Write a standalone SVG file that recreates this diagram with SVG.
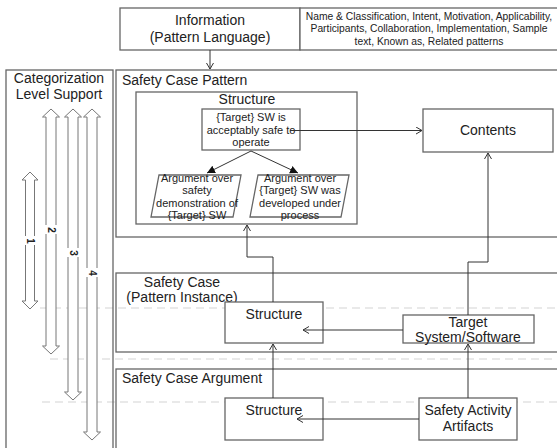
<svg xmlns="http://www.w3.org/2000/svg" width="557" height="448" viewBox="0 0 557 448">
<style>
text{font-family:"Liberation Sans",Arial,sans-serif;fill:#222}
.t14{font-size:14px}
.t11{font-size:11px}
.t10{font-size:10.3px}
.lbl{font-size:10px;font-weight:bold}
.box{fill:#fff;stroke:#666;stroke-width:1.3}
.cont{fill:none;stroke:#666;stroke-width:1.3}
.dash{stroke:#e2e2e2;stroke-width:1.5;stroke-dasharray:8 5;fill:none}
.con{fill:none;stroke:#333;stroke-width:1}
.blk{fill:#fff;stroke:#777;stroke-width:1}
.bg{fill:#fff}
</style>
<defs>
<marker id="open" markerUnits="userSpaceOnUse" markerWidth="10" markerHeight="10" refX="7" refY="4" orient="auto">
<path d="M1,0.5 L7,4 L1,7.5" fill="none" stroke="#333" stroke-width="1"/>
</marker>
<marker id="solid" markerUnits="userSpaceOnUse" markerWidth="10" markerHeight="10" refX="8" refY="4" orient="auto">
<path d="M0,0 L8,4 L0,8 Z" fill="#111"/>
</marker>
</defs>
<rect width="557" height="448" fill="#fff"/>
<g id="guides">
<line class="dash" x1="40" y1="308" x2="557" y2="308"/>
<line class="dash" x1="50" y1="359" x2="557" y2="359"/>
<line class="dash" x1="42" y1="402" x2="557" y2="402"/>
</g>
<g id="information">
<rect class="box" x="120" y="8" width="180" height="42"/>
<text class="t14" x="210" y="25" text-anchor="middle">Information</text>
<text class="t14" x="210" y="42" text-anchor="middle">(Pattern Language)</text>
</g>
<g id="information-list">
<rect class="box" x="300" y="8" width="262" height="42"/>
<text class="t10" x="429" y="20" text-anchor="middle">Name &amp; Classification, Intent, Motivation, Applicability,</text>
<text class="t10" x="429" y="32" text-anchor="middle">Participants, Collaboration, Implementation, Sample</text>
<text class="t10" x="429" y="45" text-anchor="middle">text, Known as, Related patterns</text>
</g>
<g id="categorization">
<rect class="cont" x="6" y="70" width="107" height="390"/>
<text class="t14" x="59" y="83" text-anchor="middle">Categorization</text>
<text class="t14" x="59" y="99" text-anchor="middle">Level Support</text>
<polygon class="blk" points="30,172 38,180 34.5,180 34.5,301 38,301 30,309 22,301 25.5,301 25.5,180 22,180"/>
<polygon class="blk" points="51,109 59.5,117 56,117 56,346 59.5,346 51,354 42.5,346 46,346 46,117 42.5,117"/>
<polygon class="blk" points="73,109 81.5,117 78,117 78,392 81.5,392 73,400 64.5,392 68,392 68,117 64.5,117"/>
<polygon class="blk" points="92,109 100.5,117 97,117 97,432 100.5,432 92,440 83.5,432 87,432 87,117 83.5,117"/>
<rect class="bg" x="24" y="236" width="12" height="9"/>
<rect class="bg" x="45" y="225" width="12" height="9"/>
<rect class="bg" x="67" y="248" width="12" height="9"/>
<rect class="bg" x="86" y="268" width="12" height="9"/>
<text class="lbl" transform="translate(26.5,241) rotate(90)" text-anchor="middle">1</text>
<text class="lbl" transform="translate(47.5,230) rotate(90)" text-anchor="middle">2</text>
<text class="lbl" transform="translate(69.5,253) rotate(90)" text-anchor="middle">3</text>
<text class="lbl" transform="translate(88.5,273) rotate(90)" text-anchor="middle">4</text>
</g>
<g id="safety-case-pattern">
<rect class="cont" x="116" y="70" width="450" height="167"/>
<text class="t14" x="122" y="85">Safety Case Pattern</text>
</g>
<g id="pattern-structure">
<rect class="box" x="136" y="92" width="221" height="132"/>
<text class="t14" x="247" y="104" text-anchor="middle">Structure</text>
</g>
<g id="goal">
<rect class="box" x="202" y="109" width="98" height="41"/>
<text class="t11" x="251" y="121" text-anchor="middle">{Target} SW is</text>
<text class="t11" x="251" y="134" text-anchor="middle">acceptably safe to</text>
<text class="t11" x="251" y="146" text-anchor="middle">operate</text>
</g>
<g id="strategy-1">
<polygon class="box" points="159,175 241,175 233,217 151,217"/>
<text class="t11" x="197" y="182" text-anchor="middle">Argument over</text>
<text class="t11" x="197" y="194" text-anchor="middle">safety</text>
<text class="t11" x="197" y="207" text-anchor="middle">demonstration of</text>
<text class="t11" x="197" y="219" text-anchor="middle">{Target} SW</text>
</g>
<g id="strategy-2">
<polygon class="box" points="258,175 349,175 341,217 250,217"/>
<text class="t11" x="300" y="182" text-anchor="middle">Argument over</text>
<text class="t11" x="300" y="194" text-anchor="middle">{Target} SW was</text>
<text class="t11" x="300" y="207" text-anchor="middle">developed under</text>
<text class="t11" x="300" y="219" text-anchor="middle">process</text>
</g>
<g id="contents">
<rect class="box" x="423" y="109" width="130" height="43"/>
<text class="t14" x="488" y="135" text-anchor="middle">Contents</text>
</g>
<g id="safety-case-instance">
<rect class="cont" x="116" y="273" width="450" height="79"/>
<text class="t14" x="182" y="287" text-anchor="middle">Safety Case</text>
<text class="t14" x="182" y="302" text-anchor="middle">(Pattern Instance)</text>
</g>
<g id="instance-structure">
<rect class="box" x="225" y="302" width="98" height="41"/>
<text class="t14" x="274" y="319" text-anchor="middle">Structure</text>
</g>
<g id="target-system">
<rect class="box" x="403" y="315" width="131" height="28"/>
<text class="t14" x="468" y="327" text-anchor="middle">Target</text>
<text class="t14" x="468" y="342" text-anchor="middle">System/Software</text>
</g>
<g id="safety-case-argument">
<rect class="cont" x="116" y="369" width="450" height="100"/>
<text class="t14" x="122" y="383">Safety Case Argument</text>
</g>
<g id="argument-structure">
<rect class="box" x="225" y="398" width="98" height="42"/>
<text class="t14" x="274" y="415" text-anchor="middle">Structure</text>
</g>
<g id="safety-activity-artifacts">
<rect class="box" x="419" y="398" width="98" height="42"/>
<text class="t14" x="468" y="415" text-anchor="middle">Safety Activity</text>
<text class="t14" x="468" y="431" text-anchor="middle">Artifacts</text>
</g>
<g id="connectors">
<path class="con" d="M210,50 V69" marker-end="url(#open)"/>
<path class="con" d="M251,151 L207,173" marker-end="url(#solid)"/>
<path class="con" d="M251,151 L298,173" marker-end="url(#solid)"/>
<path class="con" d="M290,130.5 H422" marker-end="url(#open)"/>
<path class="con" d="M273,302 V257 H247 V225" marker-end="url(#open)"/>
<path class="con" d="M468,315 V262 H488 V153" marker-end="url(#open)"/>
<path class="con" d="M403,330 H303" marker-end="url(#open)"/>
<path class="con" d="M273,398 V344" marker-end="url(#open)"/>
<path class="con" d="M468,398 V344" marker-end="url(#open)"/>
<path class="con" d="M419,419 H297" marker-end="url(#open)"/>
</g>
</svg>
